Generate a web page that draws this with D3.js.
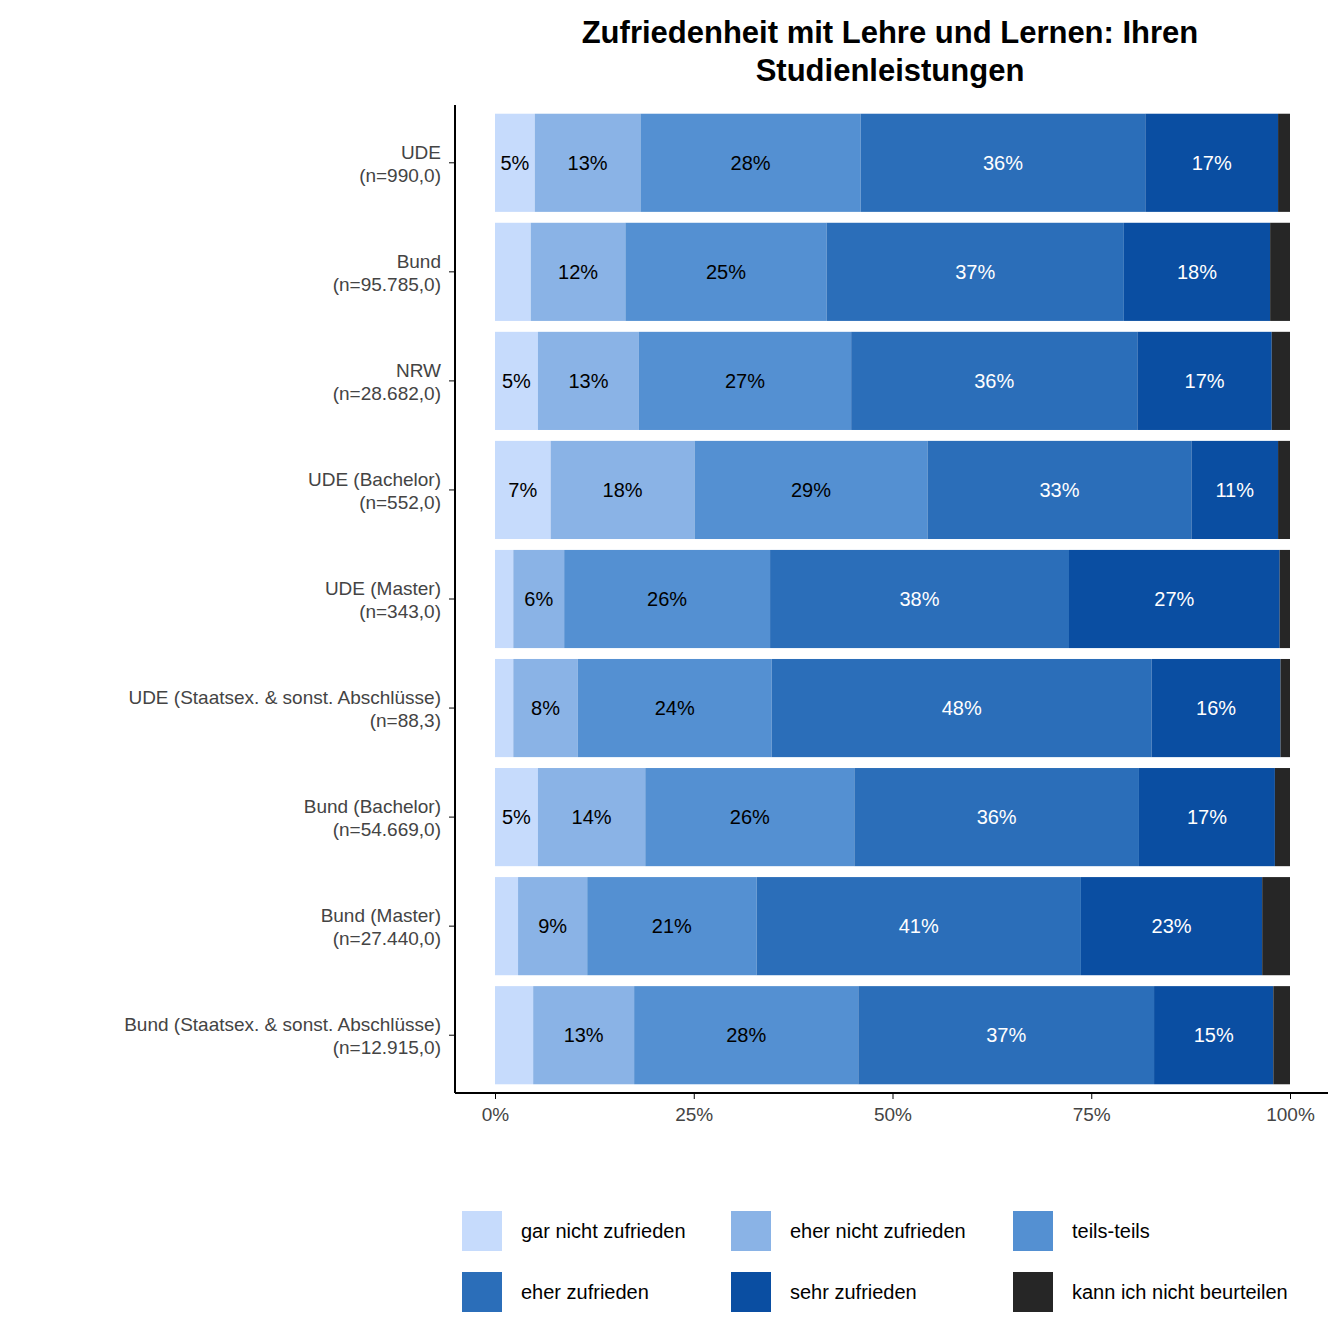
<!DOCTYPE html><html><head><meta charset="utf-8">
<script src="https://cdn.jsdelivr.net/npm/d3@7"></script>
<style>body{margin:0;background:#fff}text{font-family:Arial,"Liberation Sans",sans-serif}</style></head><body>
<svg id="c" width="1344" height="1344"></svg>
<script>
const categories=["UDE\n(n=990,0)","Bund\n(n=95.785,0)","NRW\n(n=28.682,0)","UDE (Bachelor)\n(n=552,0)","UDE (Master)\n(n=343,0)","UDE (Staatsex. & sonst. Abschlüsse)\n(n=88,3)","Bund (Bachelor)\n(n=54.669,0)","Bund (Master)\n(n=27.440,0)","Bund (Staatsex. & sonst. Abschlüsse)\n(n=12.915,0)"];
const seriesNames=["gar nicht zufrieden","eher nicht zufrieden","teils-teils","eher zufrieden","sehr zufrieden","kann ich nicht beurteilen"];
const garNicht=[5.0,4.5,5.4,7.0,2.3,2.3,5.4,2.9,4.8];
const eherNicht=[13.3,11.9,12.7,18.1,6.4,8.1,13.5,8.7,12.7];
const teils=[27.7,25.3,26.7,29.3,25.9,24.4,26.3,21.3,28.2];
const eherZ=[35.8,37.4,36.0,33.2,37.6,47.8,35.8,40.8,37.2];
const sehr=[16.7,18.4,16.9,10.9,26.5,16.2,17.1,22.8,15.0];
const kann=[1.5,2.5,2.3,1.5,1.3,1.2,1.9,3.5,2.1];
const tickLabels=["0%","25%","50%","75%","100%"];
const colors=["#C6DBFC","#8AB3E6","#5490D2","#2B6EB9","#0A4EA2","#262626"];
const series=[garNicht,eherNicht,teils,eherZ,sehr,kann];
const svg=d3.select("#c");
const x=d3.scaleLinear().domain([0,100]).range([495,1290]);
const y=d3.scaleBand().domain(categories).range([105,1093]).paddingInner(0.1).paddingOuter(0.08);
categories.forEach((c,i)=>{let cum=0;series.forEach((s,k)=>{const v=s[i];const tot=series.reduce((a,b)=>a+b[i],0);const v0=cum/tot*100,v1=(cum+v)/tot*100;cum+=v;
svg.append("rect").attr("x",x(v0)).attr("y",y(c)).attr("width",x(v1)-x(v0)).attr("height",y.bandwidth()).attr("fill",colors[k]);
if(v>=5&&k<5)svg.append("text").attr("x",(x(v0)+x(v1))/2).attr("y",y(c)+y.bandwidth()/2+7).attr("text-anchor","middle").attr("font-size",20).attr("fill",k>=3?"#fff":"#000").text(Math.round(v)+"%");});});
const ax=svg.append("g").attr("transform","translate(0,1093)").call(d3.axisBottom(x).tickValues([0,25,50,75,100]).tickFormat((d,i)=>tickLabels[i]).tickSize(6).tickSizeOuter(0));
ax.select(".domain").remove();ax.append("line").attr("x1",455).attr("x2",1328).attr("stroke","#000").attr("stroke-width",2);
ax.selectAll("text").attr("font-size",19).attr("fill","#444").attr("dy","1em");
const ay=svg.append("g").attr("transform","translate(455,0)").call(d3.axisLeft(y).tickSize(6).tickSizeOuter(0).tickFormat(""));
ay.select(".domain").remove();ay.append("line").attr("y1",105).attr("y2",1093).attr("stroke","#000").attr("stroke-width",2);
categories.forEach(c=>{const ls=c.split("\n");const t=svg.append("text").attr("text-anchor","end").attr("font-size",19).attr("fill","#444");ls.forEach((l,j)=>t.append("tspan").attr("x",441).attr("y",y(c)+y.bandwidth()/2-4+j*23).text(l));});
svg.append("text").attr("x",890).attr("y",43).attr("text-anchor","middle").attr("font-size",31).attr("font-weight","bold").text("Zufriedenheit mit Lehre und Lernen: Ihren");
svg.append("text").attr("x",890).attr("y",81).attr("text-anchor","middle").attr("font-size",31).attr("font-weight","bold").text("Studienleistungen");
const lx=[462,731,1013],ly=[1211,1272];
seriesNames.forEach((n,k)=>{const cx=lx[k%3],cy=ly[Math.floor(k/3)];
svg.append("rect").attr("x",cx).attr("y",cy).attr("width",40).attr("height",40).attr("fill",colors[k]);
svg.append("text").attr("x",cx+59).attr("y",cy+27).attr("font-size",20).text(n);});
</script></body></html>
